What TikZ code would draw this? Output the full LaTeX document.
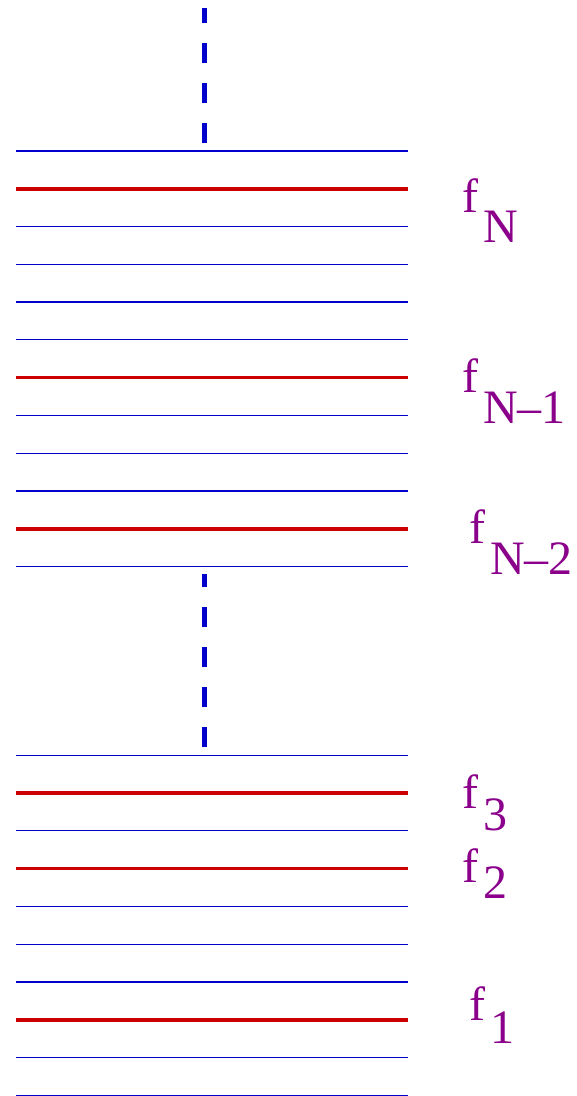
\documentclass[tikz,border=0pt]{standalone}
\usepackage{fontspec}
\newfontfamily\labfont{Liberation Serif}
\usetikzlibrary{positioning}
\definecolor{lev}{HTML}{0000CC}
\definecolor{occ}{HTML}{CC0000}
\definecolor{lab}{HTML}{8B008B}

\begin{document}
\begin{tikzpicture}[x=1pt,y=-1pt,font=\fontsize{48}{48}\selectfont]
\useasboundingbox (0,0) rectangle (577,1096);
% thin levels
\foreach \k in {0,2,3,4,5,7,8,9,11,16,18,20,21,22,24,25}{
  \pgfmathsetmacro{\yy}{151+37.77*\k}
  \draw[lev,line width=1.2pt] (16,\yy) -- (408,\yy);
}
% occupied levels
\foreach \k in {1,6,10,17,19,23}{
  \pgfmathsetmacro{\yy}{151+37.77*\k}
  \draw[occ,line width=3.6pt] (16,\yy) -- (408,\yy);
}
% gaps
\coordinate (upA) at (204,143);
\coordinate (upB) at (204,8);
\coordinate (loA) at (204,747);
\coordinate (loB) at (204,574);
\draw[lev,line width=5pt,dash pattern=on 20pt off 20pt] (upA) -- (upB);
\draw[lev,line width=5pt,dash pattern=on 20pt off 20pt] (loA) -- (loB);
% labels
\node[lab,anchor=base west,inner sep=0pt] (fN) at (462,212) {\labfont f\kern5pt\lower30pt\hbox{N}};
\node[lab,anchor=base west,inner sep=0pt] (fNa) at (462,392) {\labfont f\kern5pt\lower31pt\hbox{N\textendash1}};
\node[lab,anchor=base west,inner sep=0pt] (fNb) at (469,543) {\labfont f\kern5pt\lower31pt\hbox{N\textendash2}};
\node[lab,anchor=base west,inner sep=0pt] (fc) at (462,808) {\labfont f\kern5pt\lower22pt\hbox{3}};
\node[lab,anchor=base west,inner sep=0pt] (fb) at (462,882) {\labfont f\kern5pt\lower16pt\hbox{2}};
\node[lab,anchor=base west,inner sep=0pt] (fa) at (469,1020) {\labfont f\kern5pt\lower23pt\hbox{1}};
\end{tikzpicture}
\end{document}
